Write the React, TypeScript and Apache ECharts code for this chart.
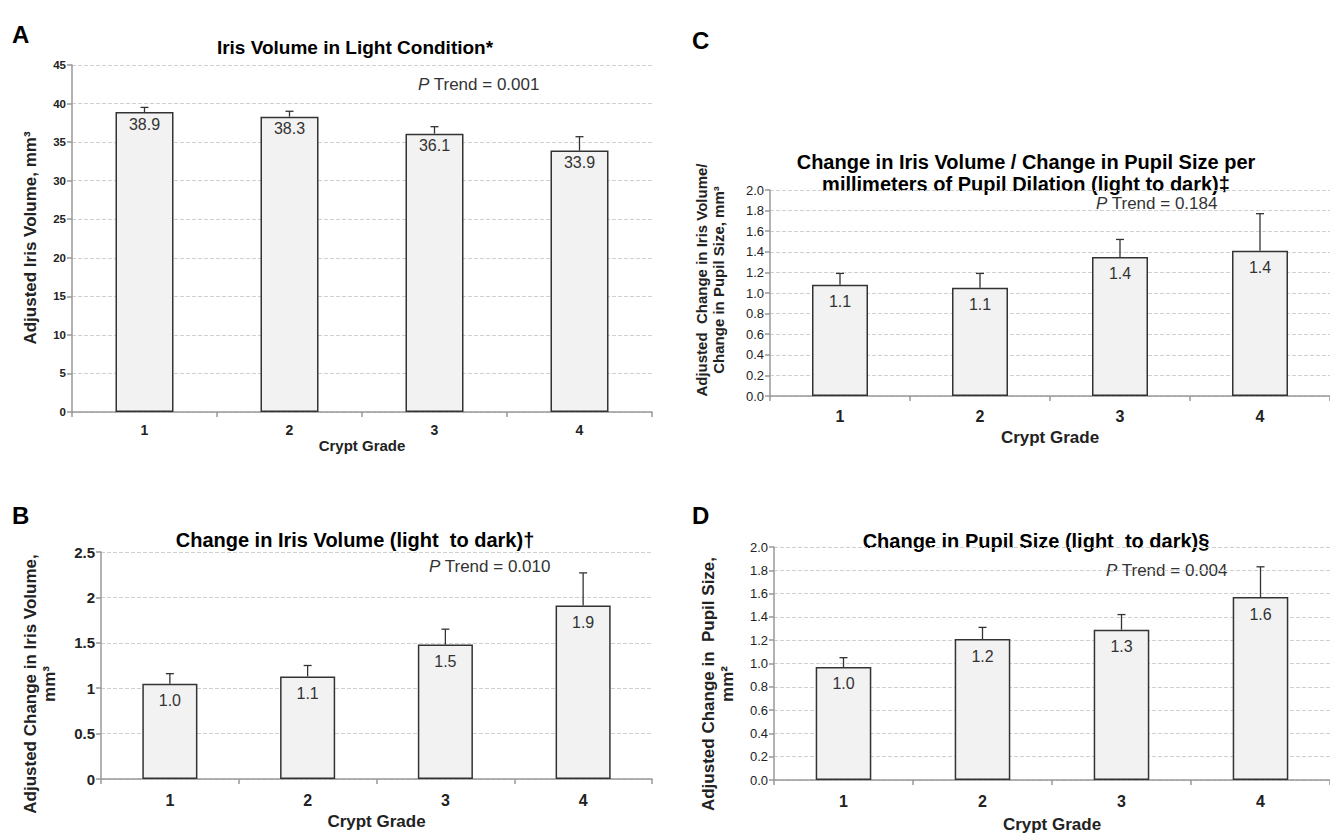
import React, { useEffect, useRef } from "react";
import * as echarts from "echarts";

const grades = ["1", "2", "3", "4"];

const aValues = [38.9, 38.3, 36.1, 33.9];
const aErrTop = [39.5, 39.0, 37.0, 35.7];
const aLabels = ["38.9", "38.3", "36.1", "33.9"];

const bValues = [1.05, 1.13, 1.48, 1.91];
const bErrTop = [1.16, 1.25, 1.65, 2.27];
const bLabels = ["1.0", "1.1", "1.5", "1.9"];

const cValues = [1.08, 1.05, 1.35, 1.41];
const cErrTop = [1.19, 1.19, 1.52, 1.77];
const cLabels = ["1.1", "1.1", "1.4", "1.4"];

const dValues = [0.97, 1.21, 1.29, 1.57];
const dErrTop = [1.05, 1.31, 1.42, 1.83];
const dLabels = ["1.0", "1.2", "1.3", "1.6"];

const FONT = "'Liberation Sans', Arial, sans-serif";
const DARK = "#222";

type Panel = {
  letter: string;
  letterPos: [number, number];
  title: string;
  titlePos: [number, number];
  titleSize: number;
  grid: { left: number; top: number; width: number; height: number };
  yMin: number;
  yMax: number;
  yInterval: number;
  yFmt: (v: number) => string;
  yLabelSize: number;
  yLabelBold: boolean;
  yName: string;
  yNamePos: [number, number];
  yNameSize: number;
  values: number[];
  errTop: number[];
  labels: string[];
  labelSize: number;
  labelDist: number;
  trend: string;
  trendPos: [number, number];
  xLabelSize: number;
  xLabelMargin: number;
  xNameSize: number;
  xNameGap: number;
};

const panels: Panel[] = [
  {
    letter: "A",
    letterPos: [12, 22],
    title: "Iris Volume in Light Condition*",
    titlePos: [355, 47],
    titleSize: 19,
    grid: { left: 72, top: 65, width: 580, height: 347 },
    yMin: 0,
    yMax: 45,
    yInterval: 5,
    yFmt: (v) => String(v),
    yLabelSize: 11.5,
    yLabelBold: true,
    yName: "Adjusted Iris Volume, mm³",
    yNamePos: [30, 238],
    yNameSize: 17,
    values: aValues,
    errTop: aErrTop,
    labels: aLabels,
    labelSize: 16,
    labelDist: 4,
    trend: "0.001",
    trendPos: [418, 84],
    xLabelSize: 14,
    xLabelMargin: 11,
    xNameSize: 15,
    xNameGap: 26,
  },
  {
    letter: "C",
    letterPos: [692, 28],
    title: "Change in Iris Volume / Change in Pupil Size per\nmillimeters of Pupil Dilation (light to dark)‡",
    titlePos: [1026, 173],
    titleSize: 20,
    grid: { left: 770, top: 190, width: 560, height: 206 },
    yMin: 0,
    yMax: 2,
    yInterval: 0.2,
    yFmt: (v) => v.toFixed(1),
    yLabelSize: 13,
    yLabelBold: false,
    yName: "Adjusted  Change in Iris Volume/\nChange in Pupil Size, mm³",
    yNamePos: [710, 280],
    yNameSize: 15,
    values: cValues,
    errTop: cErrTop,
    labels: cLabels,
    labelSize: 16,
    labelDist: 9,
    trend: "0.184",
    trendPos: [1096, 203],
    xLabelSize: 16,
    xLabelMargin: 12,
    xNameSize: 17,
    xNameGap: 33,
  },
  {
    letter: "B",
    letterPos: [12, 503],
    title: "Change in Iris Volume (light  to dark)†",
    titlePos: [355, 540],
    titleSize: 20,
    grid: { left: 101, top: 552, width: 551, height: 227 },
    yMin: 0,
    yMax: 2.5,
    yInterval: 0.5,
    yFmt: (v) => String(v),
    yLabelSize: 15,
    yLabelBold: true,
    yName: "Adjusted Change in Iris Volume,\nmm³",
    yNamePos: [40, 684],
    yNameSize: 17,
    values: bValues,
    errTop: bErrTop,
    labels: bLabels,
    labelSize: 16,
    labelDist: 9,
    trend: "0.010",
    trendPos: [429, 566],
    xLabelSize: 16,
    xLabelMargin: 13,
    xNameSize: 17,
    xNameGap: 34,
  },
  {
    letter: "D",
    letterPos: [692, 503],
    title: "Change in Pupil Size (light  to dark)§",
    titlePos: [1036, 541],
    titleSize: 20,
    grid: { left: 774, top: 547, width: 556, height: 234 },
    yMin: 0,
    yMax: 2,
    yInterval: 0.2,
    yFmt: (v) => v.toFixed(1),
    yLabelSize: 13,
    yLabelBold: false,
    yName: "Adjusted Change in  Pupil Size,\nmm²",
    yNamePos: [718, 684],
    yNameSize: 17,
    values: dValues,
    errTop: dErrTop,
    labels: dLabels,
    labelSize: 16,
    labelDist: 9,
    trend: "0.004",
    trendPos: [1106, 570],
    xLabelSize: 16,
    xLabelMargin: 13,
    xNameSize: 17,
    xNameGap: 36,
  },
];

export default function App() {
  const ref = useRef<HTMLDivElement>(null);

  useEffect(() => {
    if (!ref.current) return;
    const chart = echarts.init(ref.current, undefined, { renderer: "svg" });

    const grid = panels.map((p) => ({ ...p.grid, containLabel: false }));

    const xAxis = panels.map((p, i) => ({
      type: "category",
      gridIndex: i,
      data: grades,
      axisLine: { show: true, lineStyle: { color: "#999", width: 1.5 } },
      axisTick: { show: true, length: 5, lineStyle: { color: "#999", width: 1.5 } },
      axisLabel: {
        color: DARK,
        fontFamily: FONT,
        fontWeight: "bold",
        fontSize: p.xLabelSize,
        margin: p.xLabelMargin,
      },
      name: "Crypt Grade",
      nameLocation: "middle",
      nameGap: p.xNameGap,
      nameTextStyle: { color: DARK, fontFamily: FONT, fontWeight: "bold", fontSize: p.xNameSize },
      splitLine: { show: false },
    }));

    const yAxis = panels.map((p, i) => ({
      type: "value",
      gridIndex: i,
      min: p.yMin,
      max: p.yMax,
      interval: p.yInterval,
      axisLine: { show: true, lineStyle: { color: "#999", width: 1.5 } },
      axisTick: { show: true, length: 5, lineStyle: { color: "#999", width: 1.5 } },
      axisLabel: {
        color: DARK,
        fontFamily: FONT,
        fontWeight: p.yLabelBold ? "bold" : "normal",
        fontSize: p.yLabelSize,
        margin: 6,
        formatter: (v: number) => p.yFmt(v),
      },
      splitLine: { show: true, lineStyle: { color: "#d0d0d0", type: "dashed", width: 1 } },
    }));

    const series: any[] = [];
    panels.forEach((p, i) => {
      series.push({
        type: "bar",
        xAxisIndex: i,
        yAxisIndex: i,
        data: p.values,
        barWidth: "40%",
        itemStyle: { color: "#f2f2f2", borderColor: "#333", borderWidth: 1.5 },
        label: {
          show: true,
          position: "insideTop",
          distance: p.labelDist,
          color: "#333",
          fontFamily: FONT,
          fontSize: p.labelSize,
          formatter: (q: any) => p.labels[q.dataIndex],
        },
        z: 2,
      });
      series.push({
        type: "custom",
        xAxisIndex: i,
        yAxisIndex: i,
        data: p.values.map((v, k) => [k, v, p.errTop[k]]),
        encode: { x: 0, y: [1, 2] },
        renderItem: (params: any, api: any) => {
          const x = api.value(0);
          const p0 = api.coord([x, api.value(1)]);
          const p1 = api.coord([x, api.value(2)]);
          const half = 4;
          const st = { stroke: "#333", lineWidth: 1.3 };
          return {
            type: "group",
            children: [
              { type: "line", shape: { x1: p0[0], y1: p0[1], x2: p1[0], y2: p1[1] }, style: st },
              { type: "line", shape: { x1: p1[0] - half, y1: p1[1], x2: p1[0] + half, y2: p1[1] }, style: st },
            ],
          };
        },
        z: 3,
      });
    });

    const graphic: any[] = [];
    panels.forEach((p) => {
      graphic.push({
        type: "text",
        left: p.letterPos[0],
        top: p.letterPos[1],
        style: { text: p.letter, fontFamily: FONT, fontWeight: "bold", fontSize: 24, fill: "#000" },
      });
      graphic.push({
        type: "text",
        x: p.titlePos[0],
        y: p.titlePos[1],
        style: {
          text: p.title,
          fontFamily: FONT,
          fontWeight: "bold",
          fontSize: p.titleSize,
          lineHeight: 22,
          fill: "#000",
          align: "center",
          verticalAlign: "middle",
        },
      });
      graphic.push({
        type: "text",
        x: p.trendPos[0],
        y: p.trendPos[1],
        style: {
          text: "{i|P} Trend = " + p.trend,
          fontFamily: FONT,
          fontSize: 17,
          fill: "#333",
          verticalAlign: "middle",
          rich: {
            i: { fontStyle: "italic", fontFamily: FONT, fontSize: 17, fill: "#333" },
          },
        },
      });
      graphic.push({
        type: "text",
        x: p.yNamePos[0],
        y: p.yNamePos[1],
        rotation: Math.PI / 2,
        style: {
          text: p.yName,
          fontFamily: FONT,
          fontWeight: "bold",
          fontSize: p.yNameSize,
          lineHeight: p.yNameSize + 2,
          fill: DARK,
          align: "center",
          verticalAlign: "middle",
        },
      });
    });

    chart.setOption({
      animation: false,
      backgroundColor: "#fff",
      grid,
      xAxis,
      yAxis,
      series,
      graphic,
    });

    return () => chart.dispose();
  }, []);

  return (
    <div
      ref={ref}
      style={{ position: "fixed", left: 0, top: 0, width: 1330, height: 834, background: "#fff" }}
    />
  );
}
